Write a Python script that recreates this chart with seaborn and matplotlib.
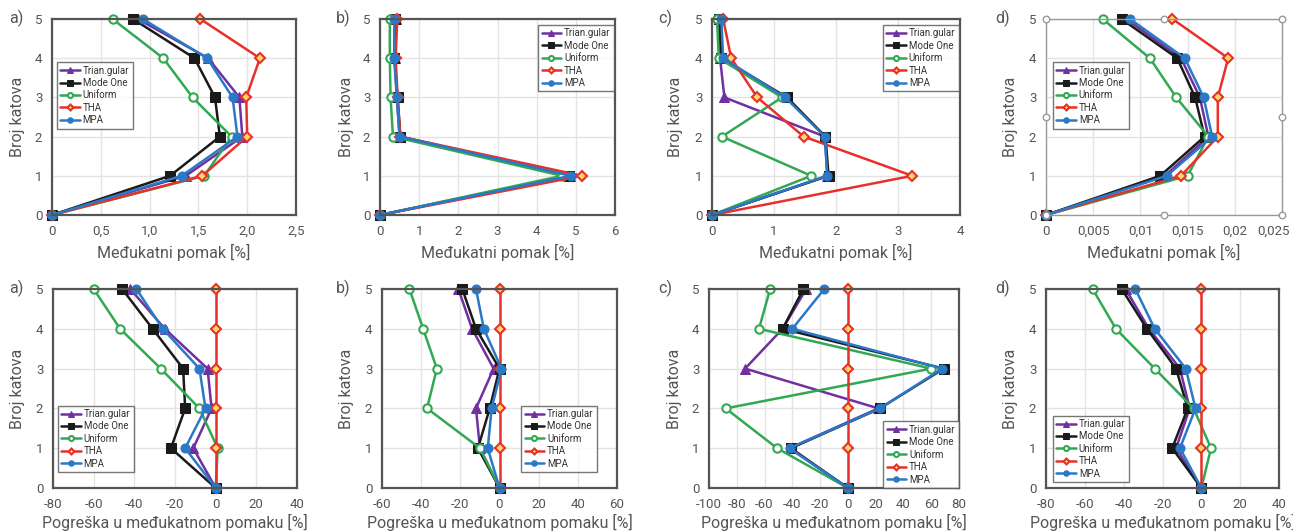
import numpy as np
import pandas as pd
import matplotlib
matplotlib.use("Agg")
import matplotlib.pyplot as plt
import matplotlib.transforms as mtransforms
import seaborn as sns

# storey numbers (0 = ground)
storeys = [0, 1, 2, 3, 4, 5]
methods = ["Trian.gular", "Mode One", "Uniform", "THA", "MPA"]

# --- top row: interstorey drift [%] ---
drift_a = {
    "Trian.gular": [0, 1.37, 1.95, 1.92, 1.60, 0.88],
    "Mode One":    [0, 1.21, 1.72, 1.67, 1.46, 0.83],
    "Uniform":     [0, 1.56, 1.84, 1.44, 1.14, 0.62],
    "THA":         [0, 1.54, 2.00, 1.99, 2.13, 1.52],
    "MPA":         [0, 1.33, 1.90, 1.85, 1.59, 0.93],
}
drift_b = {
    "Trian.gular": [0, 4.85, 0.50, 0.43, 0.38, 0.40],
    "Mode One":    [0, 4.83, 0.52, 0.45, 0.37, 0.38],
    "Uniform":     [0, 4.65, 0.33, 0.27, 0.25, 0.25],
    "THA":         [0, 5.16, 0.52, 0.45, 0.40, 0.44],
    "MPA":         [0, 4.87, 0.50, 0.43, 0.36, 0.37],
}
drift_c = {
    "Trian.gular": [0, 1.86, 1.82, 0.20, 0.13, 0.12],
    "Mode One":    [0, 1.88, 1.83, 1.21, 0.15, 0.12],
    "Uniform":     [0, 1.60, 0.16, 1.13, 0.11, 0.08],
    "THA":         [0, 3.23, 1.48, 0.73, 0.31, 0.18],
    "MPA":         [0, 1.86, 1.82, 1.18, 0.18, 0.15],
}
drift_d = {
    "Trian.gular": [0, 0.0126, 0.0172, 0.0163, 0.0143, 0.0085],
    "Mode One":    [0, 0.0121, 0.0168, 0.0158, 0.0139, 0.0080],
    "Uniform":     [0, 0.0150, 0.0172, 0.0138, 0.0110, 0.0060],
    "THA":         [0, 0.0143, 0.0182, 0.0182, 0.0193, 0.0134],
    "MPA":         [0, 0.0128, 0.0176, 0.0167, 0.0147, 0.0089],
}

# --- bottom row: error in interstorey drift [%] ---
err_a = {
    "Trian.gular": [0, -11, -2, -4, -25, -42],
    "Mode One":    [0, -22, -15, -16, -31, -46],
    "Uniform":     [0, 1, -8, -27, -47, -60],
    "THA":         [0, 0, 0, 0, 0, 0],
    "MPA":         [0, -15, -5, -8, -26, -39],
}
err_b = {
    "Trian.gular": [0, -10, -12, -3, -14, -21],
    "Mode One":    [0, -11, -5, 0, -12, -19],
    "Uniform":     [0, -10, -37, -32, -39, -46],
    "THA":         [0, 0, 0, 0, 0, 0],
    "MPA":         [0, -6, -4, 1, -8, -12],
}
err_c = {
    "Trian.gular": [0, -42, 22, -74, -47, -30],
    "Mode One":    [0, -41, 23, 69, -47, -32],
    "Uniform":     [0, -51, -88, 60, -64, -56],
    "THA":         [0, 0, 0, 0, 0, 0],
    "MPA":         [0, -42, 23, 68, -40, -17],
}
err_d = {
    "Trian.gular": [0, -13, -6, -11, -27, -39],
    "Mode One":    [0, -15, -7, -13, -28, -41],
    "Uniform":     [0, 5, -4, -24, -44, -56],
    "THA":         [0, 0, 0, 0, 0, 0],
    "MPA":         [0, -11, -3, -8, -24, -34],
}

colors = {"Trian.gular": "#7030a0", "Mode One": "#1a1a1a", "Uniform": "#33a852",
          "THA": "#e8302a", "MPA": "#2a78c6"}
marker_kw = {
    "Trian.gular": dict(marker="^", ms=6.5, mfc="#7030a0", mec="#7030a0"),
    "Mode One":    dict(marker="s", ms=6.5, mfc="#1a1a1a", mec="#1a1a1a"),
    "Uniform":     dict(marker="o", ms=6, mfc="white", mec="#33a852", mew=1.5),
    "THA":         dict(marker="D", ms=5, mfc="#ffd966", mec="#e8302a", mew=1.5),
    "MPA":         dict(marker="o", ms=6.5, mfc="#2a78c6", mec="#2a78c6"),
}

sns.set_theme(style="white")
plt.rcParams["font.family"] = ["Roboto", "DejaVu Sans"]
plt.rcParams["axes.unicode_minus"] = False

W, H = 1293, 532
fig = plt.figure(figsize=(W / 100, H / 100), dpi=100)
txt = "#555555"


def px_axes(l, t, r, b):
    return fig.add_axes([l / W, 1 - b / H, (r - l) / W, (b - t) / H])


def comma(v):
    return ("%g" % v).replace(".", ",")


panels = [
    # data, box(l,t,r,b), xlim, xticks, fmt, legend loc, anchor, letter, ylabel x px
    (drift_a, (52, 19, 296, 215), (0, 2.5), np.arange(0, 2.51, 0.5), "1f", "upper left", (0.02, 0.78), "a)", 18),
    (drift_b, (380, 19, 615, 215), (0, 6), np.arange(0, 7, 1), "g", "upper right", (0.995, 0.97), "b)", 346),
    (drift_c, (712, 19, 960, 215), (0, 4), np.arange(0, 5, 1), "g", "upper right", (0.995, 0.97), "c)", 675),
    (drift_d, (1046, 19, 1282, 215), (0, 0.025), np.arange(0, 0.0251, 0.005), "g", "upper left", (0.03, 0.78), "d)", 1010),
    (err_a, (53, 289, 297, 488), (-80, 40), np.arange(-80, 41, 20), "g", "lower left", (0.02, 0.08), "a)", 18),
    (err_b, (382, 289, 617, 488), (-60, 60), np.arange(-60, 61, 20), "g", "lower right", (0.915, 0.08), "b)", 346),
    (err_c, (709, 289, 959, 488), (-100, 80), np.arange(-100, 81, 20), "g", "lower right", (1.0, 0.0), "c)", 675),
    (err_d, (1046, 289, 1279, 488), (-80, 40), np.arange(-80, 41, 20), "g", "lower left", (0.03, 0.03), "d)", 1010),
]
letter_x = [16, 343, 665, 1003, 16, 343, 665, 1003]

for i, (data, box, xlim, xticks, fmt, loc, anchor, letter, ylx) in enumerate(panels):
    ax = px_axes(*box)
    for m in methods:
        sns.lineplot(x=data[m], y=storeys, sort=False, estimator=None, ax=ax,
                     color=colors[m], lw=1.8, label=m, clip_on=False, zorder=3,
                     **marker_kw[m])
    ax.set_xlim(*xlim)
    ax.set_ylim(0, 5)
    ax.set_yticks(storeys)
    ax.set_xticks(xticks)
    if fmt == "1f":
        ax.set_xticklabels(["0"] + [("%.1f" % v).replace(".", ",") for v in xticks[1:]])
    else:
        ax.set_xticklabels([comma(round(v, 4)) for v in xticks])
    ax.grid(True, color="#e3e3e3", lw=1)
    ax.set_axisbelow(True)
    ax.tick_params(length=0, labelsize=9.5, labelcolor=txt, pad=7)
    frame_col = "#999999" if i == 3 else "#555555"
    for sp in ax.spines.values():
        sp.set_color(frame_col)
        sp.set_linewidth(1.0 if i == 3 else 1.6)
        sp.set_zorder(4)

    if i == 3:
        # last tick label sits at the figure edge; nudge it inside
        lab = ax.get_xticklabels()[-1]
        lab.set_transform(lab.get_transform() +
                          mtransforms.ScaledTranslation(-8 / 100, 0, fig.dpi_scale_trans))

    l, t, r, b = box
    ax.set_ylabel("Broj katova", fontsize=11.5, color=txt)
    ax.yaxis.set_label_coords((ylx - l) / (r - l), 0.5)
    xl = "Međukatni pomak [%]" if i < 4 else "Pogreška u međukatnom pomaku [%]"
    xly = 252 if i < 4 else 522
    ax.set_xlabel(xl, fontsize=11.5, color=txt)
    ax.xaxis.set_label_coords(0.5, -(xly - b) / (b - t))
    ax.xaxis.label.set_va("center")
    ax.yaxis.label.set_va("center")

    leg = ax.legend(loc=loc, bbox_to_anchor=anchor, fontsize=7, frameon=True,
                    fancybox=False, edgecolor="#555555", handlelength=2.0,
                    handletextpad=0.3, borderpad=0.35, labelspacing=0.25,
                    markerscale=0.6, borderaxespad=0)
    leg.get_frame().set_linewidth(1.0)
    for tx in leg.get_texts():
        tx.set_color("#333333")

    fig.text(letter_x[i] / W, 1 - (t - 1) / H, letter, fontsize=11.5, color=txt,
             ha="center", va="center")

    # selection handles around the last top panel
    if i == 3:
        hx = [0, 0.5, 1, 0, 1, 0, 0.5, 1]
        hy = [0, 0, 0, 0.5, 0.5, 1, 1, 1]
        ax.scatter(hx, hy, transform=ax.transAxes, s=22, facecolor="white",
                   edgecolor="#999999", lw=1, clip_on=False, zorder=6)

fig.savefig("out.png", dpi=100)
